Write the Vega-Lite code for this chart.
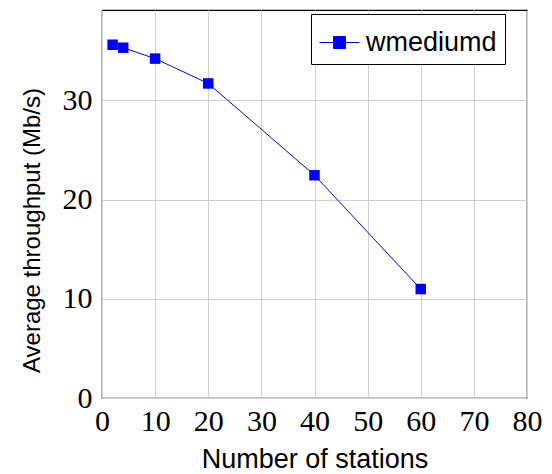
{
  "$schema": "https://vega.github.io/schema/vega-lite/v6.json",
  "width": 425,
  "height": 388,
  "autosize": {"type": "none"},
  "padding": {"left": 102, "top": 10, "right": 25, "bottom": 76},
  "background": "white",
  "config": {
    "view": {"stroke": "black", "strokeWidth": 1.2},
    "axis": {
      "grid": true,
      "gridColor": "#d0d0d0",
      "gridWidth": 1,
      "domain": false,
      "ticks": false,
      "labelFont": "Liberation Serif",
      "labelFontSize": 30,
      "labelColor": "black",
      "titleFont": "Liberation Sans",
      "titleFontSize": 27,
      "titleFontWeight": "normal",
      "titleColor": "black"
    }
  },
  "data": {
    "values": [
      {"stations": 2, "throughput": 35.6, "series": "wmediumd"},
      {"stations": 4, "throughput": 35.3, "series": "wmediumd"},
      {"stations": 10, "throughput": 34.2, "series": "wmediumd"},
      {"stations": 20, "throughput": 31.7, "series": "wmediumd"},
      {"stations": 40, "throughput": 22.45, "series": "wmediumd"},
      {"stations": 60, "throughput": 10.98, "series": "wmediumd"}
    ]
  },
  "mark": {"type": "line", "strokeWidth": 1, "point": {"shape": "square", "size": 110, "filled": true, "opacity": 1}},
  "encoding": {
    "x": {
      "field": "stations",
      "type": "quantitative",
      "scale": {"domain": [0, 80], "nice": false},
      "axis": {"values": [0, 10, 20, 30, 40, 50, 60, 70, 80], "title": "Number of stations", "labelPadding": 8, "titlePadding": 10, "labelFlush": false}
    },
    "y": {
      "field": "throughput",
      "type": "quantitative",
      "scale": {"domain": [0, 39.1], "nice": false},
      "axis": {"values": [0, 10, 20, 30], "title": "Average throughput (Mb/s)", "titleFontSize": 24, "titleY": 220, "labelPadding": 10, "titlePadding": 18, "labelFlush": false}
    },
    "color": {
      "field": "series",
      "type": "nominal",
      "scale": {"range": ["#0000ff"]},
      "legend": {
        "title": null,
        "orient": "none",
        "legendX": 209,
        "legendY": 4,
        "strokeColor": "black",
        "fillColor": "white",
        "padding": 8,
        "symbolType": "M-1,0H1M-0.3,-0.3H0.3V0.3H-0.3Z",
        "symbolSize": 1600,
        "symbolStrokeWidth": 1,
        "symbolFillColor": "#0000ff",
        "labelFont": "Liberation Sans",
        "labelFontSize": 27,
        "labelColor": "black",
        "labelOffset": 6
      }
    }
  }
}
